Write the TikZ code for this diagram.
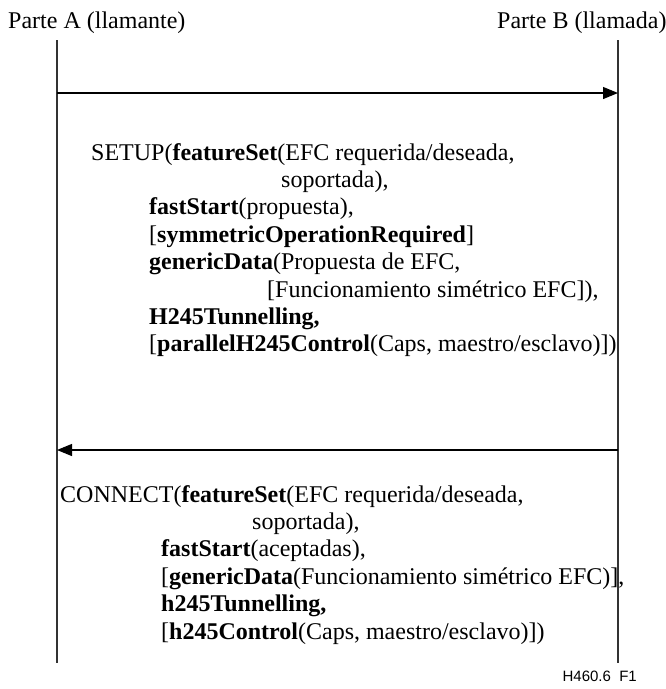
\documentclass[tikz,border=0pt]{standalone}
\usepackage{fontspec}
\setmainfont{Liberation Serif}
\newfontfamily\labelsans{Liberation Sans}
\usetikzlibrary{arrows.meta}

\begin{document}
\begin{tikzpicture}[x=1pt,y=-1pt,
  lifeline/.style={line width=1.2pt,draw=black!80},
  msg/.style={line width=1.2pt,-{Triangle[length=15pt,width=12pt]}},
  txt/.style={anchor=base west,inner sep=0pt,font=\fontsize{24}{28}\selectfont},
  party/.style={txt},
  figid/.style={anchor=base east,inner sep=0pt,font=\labelsans\fontsize{15}{18}\selectfont}]
\useasboundingbox (0,0) rectangle (666,689);

% parties
\node[party] (pa) at (8,28) {Parte A (llamante)};
\node[party] (pb) at (497,28) {Parte B (llamada)};

% lifelines
\coordinate (atop) at (57,40);
\coordinate (abot) at (57,663);
\coordinate (btop) at (618,40);
\coordinate (bbot) at (618,663);
\draw[lifeline] (atop) -- (abot);
\draw[lifeline] (btop) -- (bbot);

% messages
\coordinate (a1) at (57,93);
\coordinate (b1) at (618,93);
\coordinate (a2) at (57,450);
\coordinate (b2) at (618,450);
\draw[msg] (a1) -- (b1);
\draw[msg] (b2) -- (a2);

% SETUP contents
\node[txt] (s1) at (91,160) {SETUP(\textbf{featureSet}(EFC requerida/deseada,};
\node[txt] (s2) at (281,187.4) {soportada),};
\node[txt] (s3) at (149,214.8) {\textbf{fastStart}(propuesta),};
\node[txt] (s4) at (149,242.2) {[\textbf{symmetricOperationRequired}]};
\node[txt] (s5) at (149,269.6) {\textbf{genericData}(Propuesta de EFC,};
\node[txt] (s6) at (267,297) {[Funcionamiento simétrico EFC]),};
\node[txt] (s7) at (149,324.4) {\textbf{H245Tunnelling,}};
\node[txt] (s8) at (149,351.8) {[\textbf{parallelH245Control}(Caps, maestro/esclavo)])};

% CONNECT contents
\node[txt] (c1) at (60,502) {CONNECT(\textbf{featureSet}(EFC requerida/deseada,};
\node[txt] (c2) at (252,529.4) {soportada),};
\node[txt] (c3) at (161,556.8) {\textbf{fastStart}(aceptadas),};
\node[txt] (c4) at (161,584.2) {[\textbf{genericData}(Funcionamiento simétrico EFC)],};
\node[txt] (c5) at (161,611.6) {\textbf{h245Tunnelling,}};
\node[txt] (c6) at (161,639) {[\textbf{h245Control}(Caps, maestro/esclavo)])};

% figure identifier
\node[figid] (fid) at (637,681) {H460.6\ \ F1};
\end{tikzpicture}
\end{document}
